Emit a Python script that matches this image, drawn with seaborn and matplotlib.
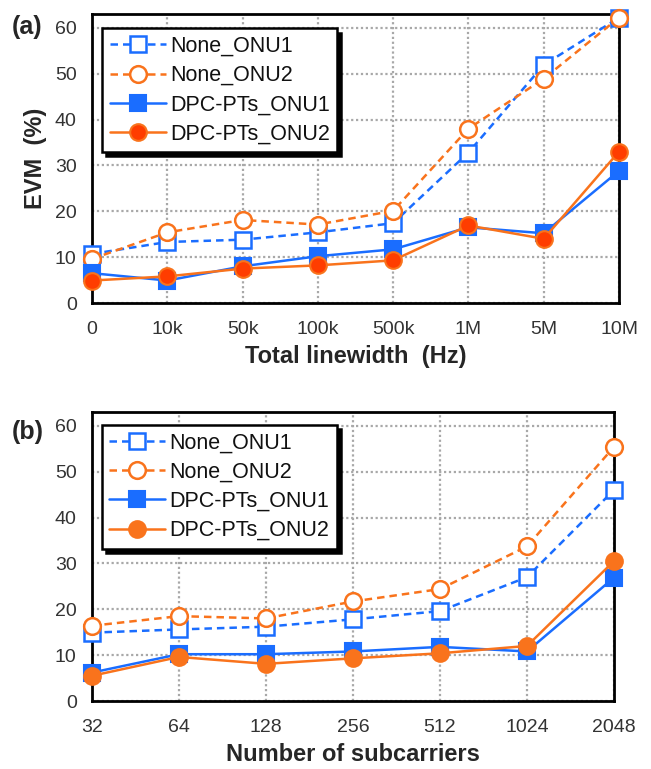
import matplotlib
matplotlib.use("Agg")
import matplotlib.pyplot as plt
import seaborn as sns
import pandas as pd

sns.set_style("white")
plt.rcParams['font.family'] = ['Liberation Sans', 'DejaVu Sans']

# ---- data ----
linewidth_labels = ["0", "10k", "50k", "100k", "500k", "1M", "5M", "10M"]
a_none_onu1 = [10.7, 13.3, 13.8, 15.4, 17.4, 32.8, 51.9, 62.2]
a_none_onu2 = [9.6, 15.4, 18.1, 17.1, 20.1, 38.0, 48.9, 62.2]
a_dpc_onu1 = [6.5, 4.9, 8.0, 10.2, 11.7, 16.5, 15.2, 28.8]
a_dpc_onu2 = [4.9, 5.8, 7.5, 8.2, 9.3, 16.9, 14.0, 33.0]

subcarrier_labels = ["32", "64", "128", "256", "512", "1024", "2048"]
b_none_onu1 = [14.9, 15.6, 16.2, 17.8, 19.6, 27.0, 46.0]
b_none_onu2 = [16.4, 18.5, 18.0, 21.7, 24.4, 33.7, 55.4]
b_dpc_onu1 = [6.2, 10.2, 10.2, 10.8, 11.8, 10.8, 26.9]
b_dpc_onu2 = [5.5, 9.6, 8.1, 9.3, 10.4, 12.0, 30.5]

series_names = ["None_ONU1", "None_ONU2", "DPC-PTs_ONU1", "DPC-PTs_ONU2"]

BLUE = "#1a6dff"
ORANGE = "#f9731c"
RED = "#ff3d00"

fig = plt.figure(figsize=(6.51, 7.69), dpi=100)
ax_a = fig.add_axes([92/651, 1-303/769, 527/651, 289/769])
ax_b = fig.add_axes([92/651, 1-701/769, 522/651, 289/769])


def draw(ax, labels, vals, dpc2_face, anchor_y):
    styles = [
        dict(color=BLUE, linestyle=(0, (3, 2)), marker='s', markersize=11,
             markerfacecolor='white', markeredgecolor=BLUE, markeredgewidth=1.8),
        dict(color=ORANGE, linestyle=(0, (3, 2)), marker='o', markersize=12,
             markerfacecolor='white', markeredgecolor=ORANGE, markeredgewidth=1.8),
        dict(color=BLUE, linestyle='-', marker='s', markersize=11,
             markerfacecolor=BLUE, markeredgecolor=BLUE, markeredgewidth=1.5),
        dict(color=ORANGE, linestyle='-', marker='o', markersize=12,
             markerfacecolor=dpc2_face, markeredgecolor=ORANGE, markeredgewidth=1.5),
    ]
    for name, v, st in zip(series_names, vals, styles):
        df = pd.DataFrame({"x": labels, "y": v})
        sns.lineplot(data=df, x="x", y="y", ax=ax, sort=False, label=name,
                     linewidth=1.8, clip_on=False, zorder=5, **st)
    ax.set_xlim(0, len(labels) - 1)
    ax.set_ylim(0, 63)
    ax.set_yticks([0, 10, 20, 30, 40, 50, 60])
    ax.grid(True, color="#a8a8a8", linestyle=(0, (1, 1.2)), linewidth=1.6)
    ax.set_axisbelow(True)
    for s in ax.spines.values():
        s.set_color('black')
        s.set_linewidth(2)
    ax.tick_params(axis='both', length=0, labelsize=14, colors='#333333')
    ax.tick_params(axis='x', pad=13)
    ax.tick_params(axis='y', pad=11)
    leg = ax.legend(loc='upper left', bbox_to_anchor=(0.019, anchor_y),
                    fontsize=15.5, frameon=True, fancybox=False, edgecolor='black',
                    shadow={'color': 'black', 'alpha': 1, 'ox': 3, 'oy': -3},
                    handlelength=2.6, labelspacing=0.38, borderpad=0.35,
                    handletextpad=0.2, borderaxespad=0, framealpha=1)
    leg.get_frame().set_linewidth(1.8)
    for t in leg.get_texts():
        t.set_color('#111111')


draw(ax_a, linewidth_labels, [a_none_onu1, a_none_onu2, a_dpc_onu1, a_dpc_onu2], RED, 0.95)
draw(ax_b, subcarrier_labels, [b_none_onu1, b_none_onu2, b_dpc_onu1, b_dpc_onu2], ORANGE, 0.955)

ax_a.set_xlabel("Total linewidth  (Hz)", fontsize=17, fontweight='bold', labelpad=5)
ax_a.set_ylabel("EVM  (%)", fontsize=17, fontweight='bold', labelpad=6)
ax_b.set_xlabel("Number of subcarriers", fontsize=17, fontweight='bold', labelpad=5)
ax_b.set_ylabel("")

fig.text(12/651, 1-27/769, "(a)", fontsize=18, fontweight='bold', va='center', ha='left')
fig.text(12/651, 1-432/769, "(b)", fontsize=18, fontweight='bold', va='center', ha='left')

fig.savefig("out.png", dpi=100)
